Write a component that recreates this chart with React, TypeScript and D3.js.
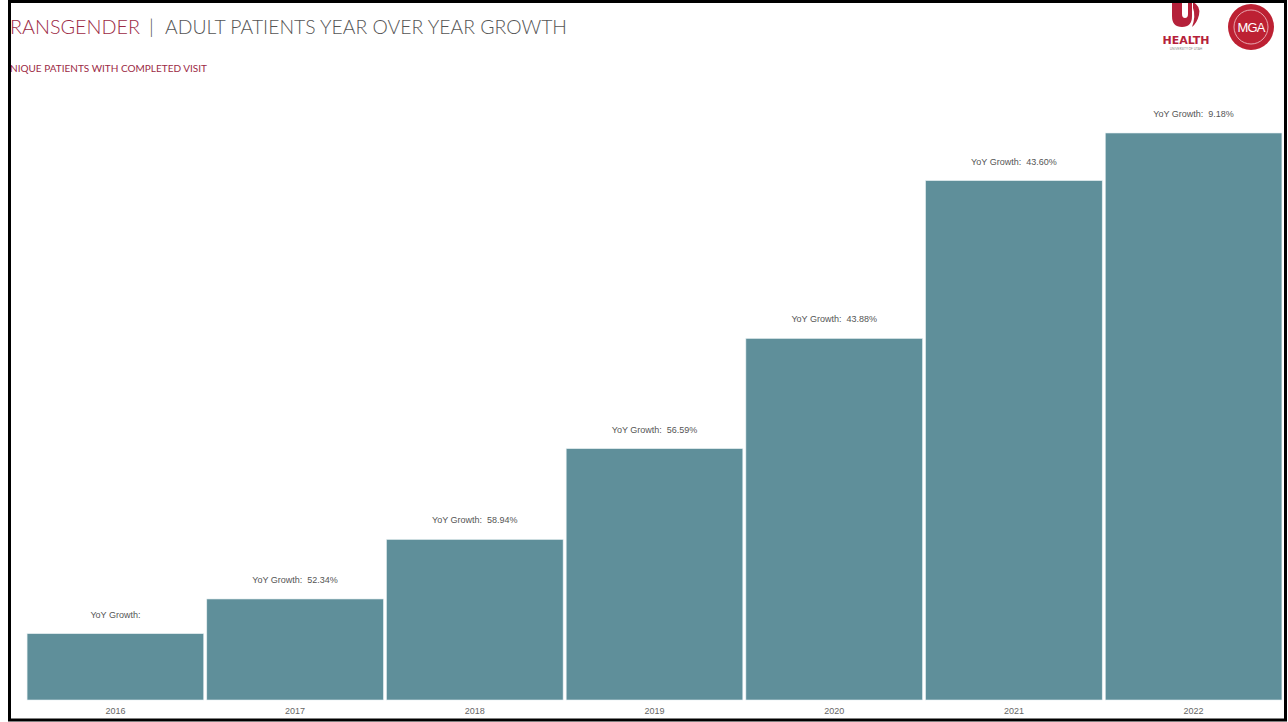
import React from "react";
import * as d3 from "d3";

const years = ["2016", "2017", "2018", "2019", "2020", "2021", "2022"];
const patients = [195, 297, 472, 739, 1063, 1527, 1667];
const growthLabels = ["YoY Growth:", "YoY Growth:  52.34%", "YoY Growth:  58.94%", "YoY Growth:  56.59%", "YoY Growth:  43.88%", "YoY Growth:  43.60%", "YoY Growth:  9.18%"];

const W = 1288;
const H = 722;
const baseY = 700;
const topY = 700 - 1700 * (567 / 1667);

export default function App() {
  const x = d3.scaleBand<string>().domain(years).range([26, 1283]).paddingInner(0.017).paddingOuter(0.006);
  const y = d3.scaleLinear().domain([0, 1700]).range([baseY, topY]);
  const red = "#9c2a45";
  const gray = "#555555";
  const font = "'Lato', 'Open Sans', 'DejaVu Sans', sans-serif";
  return (
    <svg width={W} height={H} style={{ position: "absolute", left: 0, top: 0, background: "#fff" }} fontFamily={font}>
      <rect x={0} y={0} width={W} height={H} fill="#fff" />
      {/* title */}
      <text y={34} fontSize={20} fontWeight={300}>
        <tspan x={10} fill={red} textLength={130} lengthAdjust="spacingAndGlyphs">RANSGENDER</tspan>
        <tspan x={149} fill={gray}>|</tspan>
        <tspan x={165} fill={gray} textLength={402} lengthAdjust="spacingAndGlyphs">ADULT PATIENTS YEAR OVER YEAR GROWTH</tspan>
      </text>
      <text x={10} y={72} fontSize={9.5} fill={red} textLength={197} lengthAdjust="spacingAndGlyphs">NIQUE PATIENTS WITH COMPLETED VISIT</text>

      {/* U Health logo */}
      <g fill="#b5213a">
        <path d="M1172,0 L1182,0 L1182,14 Q1182,18 1185,18 Q1188,18 1188,14 L1188,0 L1192,0 L1192,16 Q1192,27 1182,27 Q1172,27 1172,16 Z" />
        <path d="M1193,2 Q1201,6 1199,15 Q1197,23 1192,27 Q1196,16 1193,8 Z" />
        <text x={1186} y={44} fontSize={11} fontWeight={700} textAnchor="middle" fontFamily="'DejaVu Sans', sans-serif">HEALTH</text>
        <text x={1186} y={50} fontSize={3.2} textAnchor="middle" fill="#888">UNIVERSITY OF UTAH</text>
      </g>
      {/* MGA logo */}
      <g>
        <circle cx={1251} cy={27} r={23} fill="#bd2133" />
        <circle cx={1251} cy={27} r={17} fill="none" stroke="#f3c9cf" strokeWidth={0.8} />
        <text x={1251} y={32} fontSize={13} fill="#fff" textAnchor="middle" fontFamily="'Liberation Sans', sans-serif" letterSpacing={-0.8}>MGA</text>
      </g>

      {/* bars */}
      {years.map((yr, i) => (
        <g key={yr}>
          <rect x={x(yr)} y={y(patients[i])} width={x.bandwidth()} height={baseY - y(patients[i])} fill="#5f8f9a" stroke="#e4eef0" strokeWidth={0.6} />
          <text x={(x(yr) as number) + x.bandwidth() / 2} y={y(patients[i]) - 16} fontSize={9} fill="#555" textAnchor="middle" fontFamily="'Liberation Sans', sans-serif" style={{ whiteSpace: "pre" }}>{growthLabels[i]}</text>
          <text x={(x(yr) as number) + x.bandwidth() / 2} y={baseY + 14} fontSize={9} fill="#666" textAnchor="middle" fontFamily="'Liberation Sans', sans-serif">{yr}</text>
        </g>
      ))}

      {/* frame */}
      <rect x={9.5} y={1.5} width={1276} height={718.5} fill="none" stroke="#000" strokeWidth={3} />
    </svg>
  );
}
